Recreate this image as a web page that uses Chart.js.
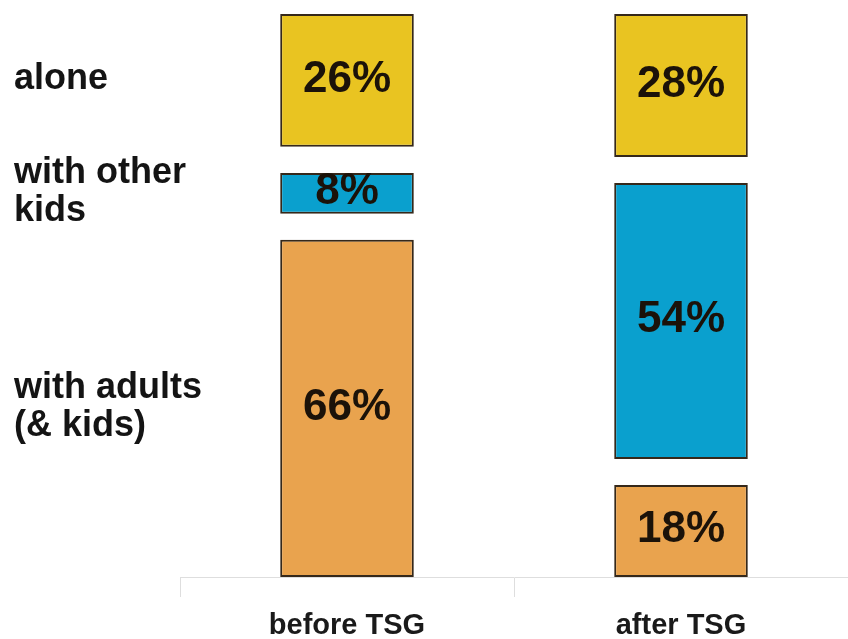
<!DOCTYPE html>
<html>
<head>
<meta charset="utf-8">
<script src="https://cdn.jsdelivr.net/npm/chart.js@4/dist/chart.umd.min.js"></script>
<style>
  html, body { margin: 0; padding: 0; background: #ffffff; }
  #wrap { width: 848px; height: 639px; position: relative; }
</style>
</head>
<body>
<div id="wrap"><canvas id="c" width="848" height="639"></canvas></div>
<script>
const categories = ["before TSG", "after TSG"];
const seriesNames = [["with adults", "(& kids)"], ["with other", "kids"], ["alone"]];
const adults = [66, 18];
const otherKids = [8, 54];
const alone = [26, 28];
const colors = ["#E9A34E", "#0AA0CE", "#E9C421"];
const GAP = 5.1; // visual gap between segments, in percentage-point units

const seriesValues = [adults, otherKids, alone];

// floating bar ranges built from the values, with a constant visual gap between segments
const ranges = seriesValues.map(() => []);
categories.forEach((c, ci) => {
  let cum = 0;
  seriesValues.forEach((vals, si) => {
    const start = cum + si * GAP;
    ranges[si].push([start, start + vals[ci]]);
    cum += vals[ci];
  });
});

const datasets = seriesValues.map((vals, si) => ({
  label: seriesNames[si].join(" "),
  data: ranges[si],
  values: vals,
  backgroundColor: colors[si],
  borderColor: "#35281a",
  borderWidth: 2,
  borderSkipped: false,
  grouped: false,
  categoryPercentage: 1,
  barPercentage: 0.4
}));

const labelPlugin = {
  id: "labels",
  afterDatasetsDraw(chart) {
    const ctx = chart.ctx;
    ctx.save();
    // value labels
    ctx.fillStyle = "#1b1209";
    ctx.font = "bold 44px 'Liberation Sans', Arial, sans-serif";
    ctx.textAlign = "center";
    ctx.textBaseline = "middle";
    chart.data.datasets.forEach((ds, di) => {
      const meta = chart.getDatasetMeta(di);
      meta.data.forEach((bar, i) => {
        const p = bar.getProps(["x", "y", "base"], true);
        ctx.fillText(ds.values[i] + "%", p.x, (p.y + p.base) / 2 - 1);
      });
    });
    // series labels at the left, aligned with the first bar's segments
    ctx.fillStyle = "#141414";
    ctx.font = "bold 36px 'Liberation Sans', Arial, sans-serif";
    ctx.textAlign = "left";
    const lh = 38;
    chart.data.datasets.forEach((ds, di) => {
      const bar = chart.getDatasetMeta(di).data[0];
      const p = bar.getProps(["y", "base"], true);
      const mid = (p.y + p.base) / 2 - 1;
      const lines = seriesNames[di];
      const top = mid - (lines.length - 1) * lh / 2;
      lines.forEach((t, k) => ctx.fillText(t, 14, top + k * lh));
    });
    ctx.restore();
  }
};

new Chart(document.getElementById("c"), {
  type: "bar",
  data: { labels: categories, datasets },
  options: {
    responsive: false,
    animation: false,
    layout: { padding: { left: 180, top: 14, right: 0, bottom: 0 } },
    plugins: { legend: { display: false }, tooltip: { enabled: false } },
    scales: {
      x: {
        afterFit: (scale) => { scale.height = 62; },
        grid: { drawOnChartArea: false, drawTicks: true, tickLength: 20, color: "#dedede", offset: true },
        border: { color: "#dedede", width: 1 },
        ticks: {
          color: "#1a1a1a",
          padding: 14,
          font: { family: "'Liberation Sans', Arial, sans-serif", size: 29, weight: "bold", lineHeight: 1.0 }
        }
      },
      y: {
        display: false,
        min: 0,
        max: 100 + 2 * GAP
      }
    }
  },
  plugins: [labelPlugin]
});
</script>
</body>
</html>
